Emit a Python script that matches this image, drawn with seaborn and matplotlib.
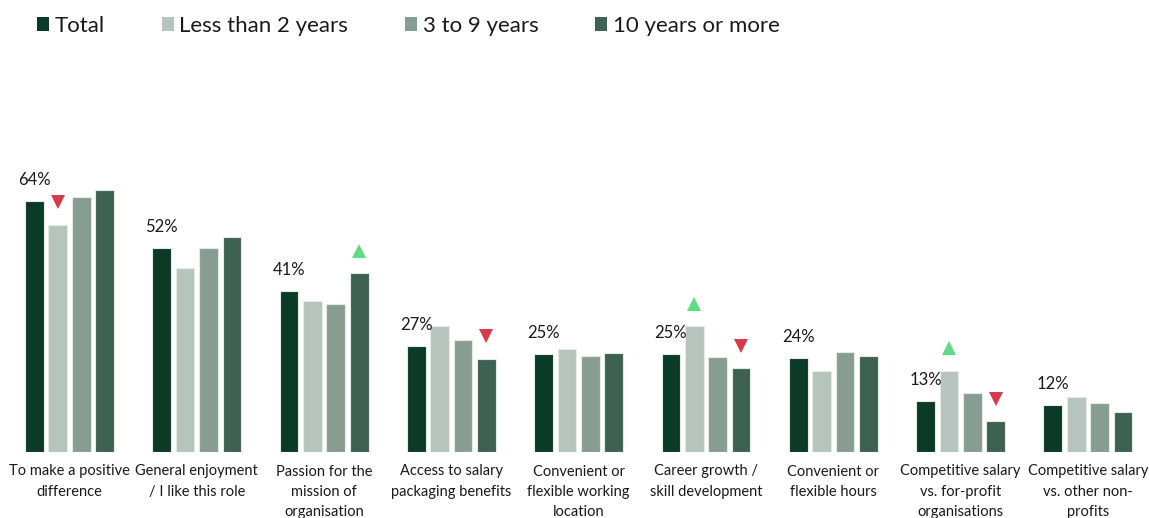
import matplotlib
matplotlib.use("Agg")
import matplotlib.pyplot as plt
from matplotlib.patches import Patch
import pandas as pd
import seaborn as sns

# Reasons for working in the sector, by tenure
categories = [
    "To make a positive\ndifference",
    "General enjoyment\n/ I like this role",
    "Passion for the\nmission of\norganisation",
    "Access to salary\npackaging benefits",
    "Convenient or\nflexible working\nlocation",
    "Career growth /\nskill development",
    "Convenient or\nflexible hours",
    "Competitive salary\nvs. for-profit\norganisations",
    "Competitive salary\nvs. other non-\nprofits",
]
groups = ["Total", "Less than 2 years", "3 to 9 years", "10 years or more"]

total = [64, 52, 41, 27, 25, 25, 24, 13, 12]
less_than_2 = [58, 47, 38.4, 32, 26.2, 32, 20.7, 20.7, 13.9]
three_to_9 = [65, 52, 37.7, 28.6, 24.5, 24.1, 25.5, 15, 12.6]
ten_plus = [66.7, 54.7, 45.6, 23.8, 25.2, 21.4, 24.5, 7.8, 10.2]

# Significant differences vs. total: "up" / "down" / None
sig_less_than_2 = ["down", None, None, None, None, "up", None, "up", None]
sig_three_to_9 = [None] * 9
sig_ten_plus = [None, None, "up", "down", None, "down", None, "down", None]

colors = ["#0b3a26", "#b5c4bd", "#889d92", "#3d6252"]
up_color = "#5ddb85"
down_color = "#d93a4a"

series = [total, less_than_2, three_to_9, ten_plus]
sigs = [[None] * 9, sig_less_than_2, sig_three_to_9, sig_ten_plus]

rows = []
for g, vals in zip(groups, series):
    for c, v in zip(categories, vals):
        rows.append({"reason": c, "tenure": g, "pct": v})
df = pd.DataFrame(rows)

sns.set_theme(style="white")
plt.rcParams["font.family"] = ["Lato", "DejaVu Sans"]

fig = plt.figure(figsize=(11.49, 5.18), dpi=100)
ax = fig.add_axes([0, 66 / 518, 1, 392.2 / 518])

sns.barplot(
    data=df, x="reason", y="pct", hue="tenure",
    order=categories, hue_order=groups, palette=colors, saturation=1,
    width=0.735, gap=0.2, edgecolor="#e4ebe7", linewidth=0.8,
    legend=False, ax=ax,
)

ax.set_xlim(-0.546, 8.48)
ax.set_ylim(0, 100)
ax.set_xlabel("")
ax.set_ylabel("")
ax.set_yticks([])
ax.tick_params(axis="x", length=0, pad=9)
ax.set_xticks(range(len(categories)))
ax.set_xticklabels(categories, fontsize=10.5, color="#1a1a1a", linespacing=1.55)
sns.despine(ax=ax, left=True, bottom=True)

# Value labels above the "Total" bars
for bar, v in zip(ax.containers[0], total):
    x = bar.get_x() + bar.get_width() / 2
    ax.text(x, v + 5.4, f"{v:.0f}%", ha="center", va="center",
            fontsize=12, color="#1a1a1a")

# Significance markers above the tenure bars
for container, vals, flags in zip(ax.containers, series, sigs):
    for bar, v, f in zip(container, vals, flags):
        if f is None:
            continue
        x = bar.get_x() + bar.get_width() / 2
        ax.plot(x, v + 5.7, marker="v" if f == "down" else "^",
                markersize=10, color=down_color if f == "down" else up_color,
                markeredgewidth=0, linestyle="none")

handles = [Patch(facecolor=c, edgecolor="none") for c in colors]
fig.legend(
    handles, groups, loc="center left", bbox_to_anchor=(37 / 1149, 1 - 26 / 518),
    ncol=4, frameon=False, fontsize=16, handlelength=0.55, handleheight=0.55,
    handletextpad=0.25, columnspacing=2.55, borderpad=0, borderaxespad=0,
    labelcolor="#1a1a1a",
)

fig.savefig("out.png", dpi=100)
